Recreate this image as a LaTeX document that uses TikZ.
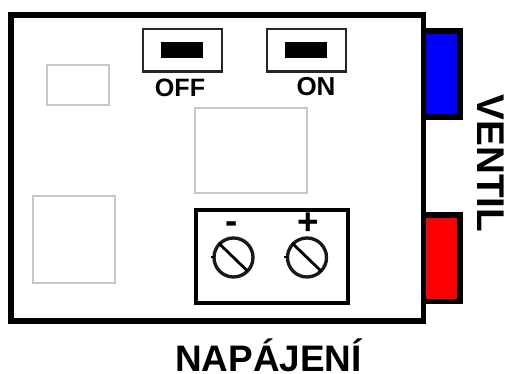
\documentclass[tikz,border=0pt]{standalone}
\usepackage{fontspec}
\setmainfont{Liberation Sans}
\tikzset{
  graybox/.style={draw=black!22,line width=0.9pt},
  thickbox/.style={draw=black,line width=3.1pt,line join=miter},
  switchbox/.style={draw=black!85,line width=1.3pt},
  screwhead/.style={draw=black!90,line width=1.9pt},
  boardlabel/.style={inner sep=0pt},
}

\begin{document}
\begin{tikzpicture}[x=0.02cm,y=-0.02cm]
\useasboundingbox (0,0) rectangle (507,374);

%% Valve connectors
\draw[thickbox,fill=blue] (423.5,31) rectangle (460,117);
\draw[thickbox,fill=red] (423.5,215) rectangle (460,301.5);

%% Board outline
\draw[thickbox] (11,15) rectangle (423.5,321);

%% Faint components
\draw[graybox] (47,65) rectangle (109,105);
\draw[graybox] (195,108) rectangle (307,193);
\draw[graybox] (33,196) rectangle (115,283);

%% Switches
\foreach \x in {143,267}{
  \draw[switchbox] (\x,29) rectangle ++(79,42.5);
  \fill[black] (\x+18,42.5) rectangle ++(41.5,16);
}
\node[boardlabel,font=\bfseries\fontsize{14.3}{16}\selectfont] (offlabel) at (180,88) {OFF};
\node[boardlabel,font=\bfseries\fontsize{14.8}{16}\selectfont] (onlabel) at (316,87) {ON};

%% Terminal block
\draw[draw=black,line width=2pt] (196,210) rectangle (348,303);
\foreach \x in {233.5,307}{
  \draw[screwhead] (\x,257.5) circle (19.5);
  \draw[black,line width=1.6pt] (\x-15,243) -- (\x+14,271);
  \draw[black,line width=0.8pt] (\x-23,257) -- (\x-19,257);
}
\node[boardlabel,font=\bfseries\fontsize{21}{23}\selectfont] (minuslabel) at (231.5,228) {-};
\node[boardlabel,font=\bfseries\fontsize{21}{23}\selectfont] (pluslabel) at (308,224) {+};

%% Outer labels
\node[boardlabel,anchor=base,font=\bfseries\fontsize{21}{23}\selectfont] (powerlabel) at (268.5,372) {NAPÁJENÍ};
\node[boardlabel,font=\bfseries\fontsize{22}{24}\selectfont,rotate=-90] (valvelabel) at (491,163.5) {VENTIL};

\end{tikzpicture}
\end{document}
